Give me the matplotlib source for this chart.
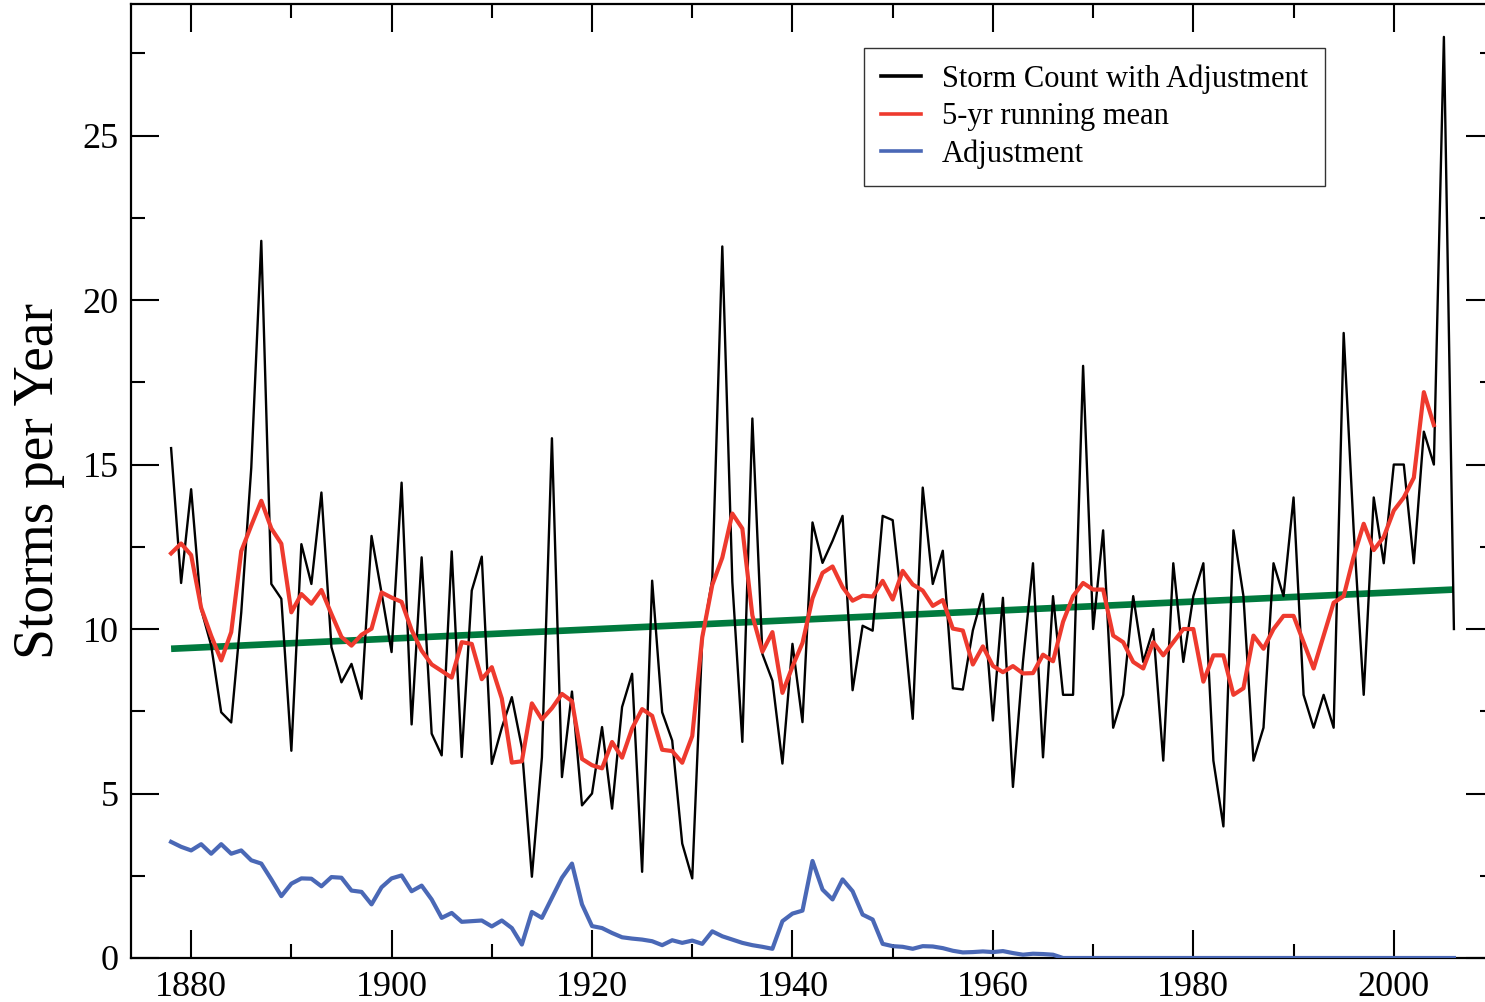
import numpy as np
import pandas as pd
import matplotlib
matplotlib.use("Agg")
import matplotlib.pyplot as plt
from matplotlib.lines import Line2D
from matplotlib.ticker import MultipleLocator

plt.rcParams["font.family"] = ["Liberation Serif", "DejaVu Serif"]

# Atlantic tropical storm counts per year, 1878-2006
years = np.arange(1878, 2007)

storm_count = [
    15.5, 11.4, 14.25, 10.6, 9.5, 7.47, 7.16, 10.5, 14.9, 21.8,      # 1878-1887
    11.37, 10.92, 6.3, 12.58, 11.37, 14.15, 9.45, 8.38, 8.94, 7.88,  # 1888-1897
    12.83, 11.1, 9.3, 14.45, 7.1, 12.18, 6.82, 6.16, 12.36, 6.11,    # 1898-1907
    11.17, 12.2, 5.9, 7.0, 7.93, 6.4, 2.47, 6.1, 15.8, 5.5,          # 1908-1917
    8.1, 4.64, 5.0, 7.02, 4.54, 7.63, 8.64, 2.62, 11.47, 7.47,       # 1918-1927
    6.61, 3.48, 2.42, 9.7, 11.52, 21.63, 11.43, 6.57, 16.4, 9.24,    # 1928-1937
    8.43, 5.91, 9.55, 7.17, 13.24, 12.01, 12.68, 13.44, 8.14, 10.1,  # 1938-1947
    9.95, 13.44, 13.31, 10.52, 7.27, 14.3, 11.37, 12.38, 8.2, 8.16,  # 1948-1957
    9.96, 11.07, 7.22, 10.95, 5.2, 9.0, 12.0, 6.1, 11.0, 8,          # 1958-1967
    8, 18, 10, 13, 7, 8, 11, 9, 10, 6,                               # 1968-1977
    12, 9, 11, 12, 6, 4, 13, 11, 6, 7,                               # 1978-1987
    12, 11, 14, 8, 7, 8, 7, 19, 13, 8,                               # 1988-1997
    14, 12, 15, 15, 12, 16, 15, 28, 10,                              # 1998-2006
]

adjustment = [
    3.53, 3.38, 3.27, 3.46, 3.17, 3.46, 3.17, 3.27, 2.97, 2.87,      # 1878-1887
    2.39, 1.88, 2.26, 2.42, 2.41, 2.18, 2.46, 2.44, 2.05, 2.01,      # 1888-1897
    1.63, 2.15, 2.42, 2.51, 2.03, 2.2, 1.78, 1.22, 1.37, 1.1,        # 1898-1907
    1.12, 1.14, 0.96, 1.14, 0.91, 0.41, 1.4, 1.22, 1.83, 2.44,       # 1908-1917
    2.87, 1.63, 0.97, 0.91, 0.76, 0.63, 0.59, 0.56, 0.51, 0.39,      # 1918-1927
    0.54, 0.46, 0.53, 0.43, 0.81, 0.66, 0.56, 0.46, 0.39, 0.34,      # 1928-1937
    0.28, 1.12, 1.35, 1.44, 2.95, 2.08, 1.78, 2.39, 2.03, 1.32,      # 1938-1947
    1.17, 0.43, 0.36, 0.34, 0.28, 0.36, 0.35, 0.30, 0.22, 0.17,      # 1948-1957
    0.18, 0.2, 0.18, 0.21, 0.15, 0.10, 0.13, 0.12, 0.1, 0.0,         # 1958-1967
    0.0, 0.0, 0.0, 0.0, 0.0, 0.0, 0.0, 0.0, 0.0, 0.0,                # 1968-1977
    0.0, 0.0, 0.0, 0.0, 0.0, 0.0, 0.0, 0.0, 0.0, 0.0,                # 1978-1987
    0.0, 0.0, 0.0, 0.0, 0.0, 0.0, 0.0, 0.0, 0.0, 0.0,                # 1988-1997
    0.0, 0.0, 0.0, 0.0, 0.0, 0.0, 0.0, 0.0, 0.0,                     # 1998-2006
]

# first two running-mean points (their windows reach back before 1878)
running_mean_start = [12.3, 12.6]

# linear trend end points
trend_years = [1878, 2006]
trend_values = [9.4, 11.2]

legend_labels = ["Storm Count with Adjustment", "5-yr running mean", "Adjustment"]

# centred 5-year running mean of the adjusted counts
counts = pd.Series(storm_count, index=years, dtype=float)
running_mean = counts.rolling(5, center=True).mean()
running_mean.iloc[:2] = running_mean_start
running_mean = running_mean.dropna()

BLACK = "#000000"
RED = "#ee3a2e"
BLUE = "#4a68b6"
GREEN = "#007a3e"

fig = plt.figure(figsize=(14.85, 10.02), dpi=100)
ax = fig.add_axes([131 / 1485, 44 / 1002, 1363 / 1485, 954 / 1002])

ax.plot(trend_years, trend_values, color=GREEN, lw=4.8, solid_capstyle="butt", zorder=1)
ax.plot(years, storm_count, color=BLACK, lw=1.7, zorder=2)
ax.plot(running_mean.index, running_mean.values, color=RED, lw=3.0, zorder=3)
ax.plot(years, adjustment, color=BLUE, lw=3.0, zorder=4)

ax.set_xlim(1874, 2010)
ax.set_ylim(0, 29)

ax.xaxis.set_major_locator(MultipleLocator(20))
ax.xaxis.set_minor_locator(MultipleLocator(10))
ax.yaxis.set_major_locator(MultipleLocator(5))
ax.yaxis.set_minor_locator(MultipleLocator(2.5))

ax.tick_params(which="both", direction="in", top=True, right=True, width=1.5,
               labelsize=26, colors="black")
ax.tick_params(which="major", length=20)
ax.tick_params(which="minor", length=10)
ax.tick_params(axis="x", which="major", pad=9)
ax.tick_params(axis="y", which="major", pad=9)

for side in ax.spines.values():
    side.set_linewidth(1.6)

ax.set_ylabel("Storms per Year", fontsize=40)
ax.yaxis.set_label_coords(-0.0485, 0.5)

handles = [Line2D([], [], color=BLACK, lw=2.6),
           Line2D([], [], color=RED, lw=2.6),
           Line2D([], [], color=BLUE, lw=2.6)]
leg = ax.legend(handles, legend_labels, loc="upper left",
                bbox_to_anchor=(0.5378, 0.954), borderaxespad=0,
                fontsize=22, frameon=True, fancybox=False, framealpha=1,
                edgecolor="#333333", handlelength=1.3, handletextpad=0.7,
                labelspacing=0.27, borderpad=0.55)
leg.get_frame().set_linewidth(1.0)

fig.savefig("out.png", dpi=100)
